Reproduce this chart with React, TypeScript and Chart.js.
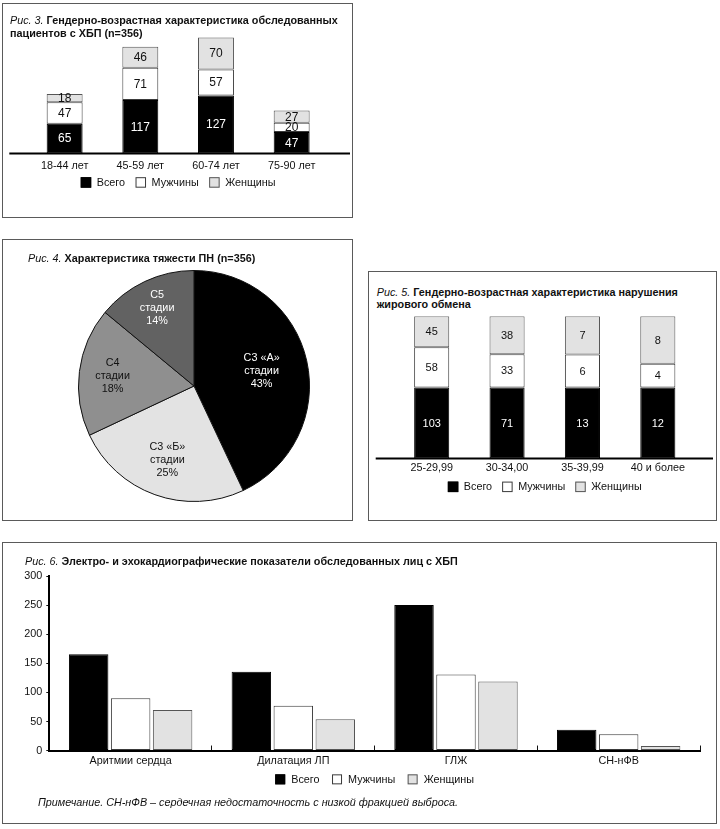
import React, { useEffect, useRef } from 'react';
import { Chart, registerables } from 'chart.js';

Chart.register(...registerables);

const FONT = "'Liberation Sans', Arial, Helvetica, sans-serif";
Chart.defaults.font.family = FONT;
Chart.defaults.color = '#111';

// ---------- Рис. 3 ----------
const ageGroups = ['18-44 лет', '45-59 лет', '60-74 лет', '75-90 лет'];
const ageTotal = [65, 117, 127, 47];
const ageMen = [47, 71, 57, 20];
const ageWomen = [18, 46, 70, 27];

// ---------- Рис. 4 ----------
const stageLabels = ['С3 «А»', 'С3 «Б»', 'С4', 'С5'];
const stagePercents = [43, 25, 18, 14];

// ---------- Рис. 5 ----------
const bmiGroups = ['25-29,99', '30-34,00', '35-39,99', '40 и более'];
const bmiTotal = [103, 71, 13, 12];
const bmiMen = [58, 33, 6, 4];
const bmiWomen = [45, 38, 7, 8];

// ---------- Рис. 6 ----------
const cardioCategories = ['Аритмии сердца', 'Дилатация ЛП', 'ГЛЖ', 'СН-нФВ'];
const cardioTotal = [166, 136, 251, 36];
const cardioMen = [90, 77, 131, 28];
const cardioWomen = [70, 54, 119, 8];
const cardioTicks = [0, 50, 100, 150, 200, 250, 300];

const seriesNames = ['Всего', 'Мужчины', 'Женщины'];
const seriesFill = ['#000000', '#ffffff', '#e2e2e2'];
const seriesBorder = ['#000000', '#3a3a3a', '#555555'];

// ---------- plugins ----------
const valueLabelsPlugin = {
  id: 'valueLabels',
  afterDatasetsDraw(chart: any, _a: any, opts: any) {
    if (!opts || !opts.display) return;
    const ctx = chart.ctx;
    ctx.save();
    ctx.font = opts.font;
    ctx.textAlign = 'center';
    ctx.textBaseline = 'middle';
    chart.data.datasets.forEach((ds: any, di: number) => {
      const meta = chart.getDatasetMeta(di);
      const texts = ds.valueLabels || ds.data;
      meta.data.forEach((el: any, i: number) => {
        const p = el.getProps(['x', 'y', 'base'], true);
        ctx.fillStyle = opts.colors[di];
        ctx.fillText(String(texts[i]), p.x, (p.y + p.base) / 2 + 0.5);
      });
    });
    ctx.restore();
  },
};

const boxLegendPlugin = {
  id: 'boxLegend',
  afterDraw(chart: any, _a: any, opts: any) {
    if (!opts || !opts.display) return;
    const { ctx, chartArea } = chart;
    ctx.save();
    ctx.font = opts.font;
    ctx.textBaseline = 'middle';
    ctx.textAlign = 'left';
    const items = chart.data.datasets.map((ds: any) => ({
      text: ds.label,
      fill: ds.backgroundColor,
      stroke: ds.borderColor,
      w: ctx.measureText(ds.label).width,
    }));
    const total =
      items.reduce((s: number, it: any) => s + opts.box + opts.gap + it.w, 0) +
      opts.itemGap * (items.length - 1);
    let x = (chartArea.left + chartArea.right) / 2 - total / 2 + (opts.dx || 0);
    const y = chartArea.bottom + opts.offsetY;
    items.forEach((it: any) => {
      ctx.fillStyle = it.fill;
      ctx.fillRect(x, y - opts.box / 2, opts.box, opts.box);
      ctx.strokeStyle = it.stroke;
      ctx.lineWidth = 1;
      ctx.strokeRect(x + 0.5, y - opts.box / 2 + 0.5, opts.box - 1, opts.box - 1);
      ctx.fillStyle = '#111';
      ctx.fillText(it.text, x + opts.box + opts.gap, y + 0.5);
      x += opts.box + opts.gap + it.w + opts.itemGap;
    });
    ctx.restore();
  },
};

const baselinePlugin = {
  id: 'baseline',
  afterDatasetsDraw(chart: any, _a: any, opts: any) {
    if (!opts || !opts.display) return;
    const { ctx, chartArea } = chart;
    const y = chart.scales.y.getPixelForValue(0);
    ctx.save();
    ctx.strokeStyle = '#000';
    ctx.lineWidth = opts.width;
    ctx.beginPath();
    ctx.moveTo(chartArea.left - opts.extendLeft, y);
    ctx.lineTo(chartArea.right + opts.extendRight, y);
    ctx.stroke();
    ctx.restore();
  },
};

const pieLabelsPlugin = {
  id: 'pieLabels',
  afterDatasetsDraw(chart: any, _a: any, opts: any) {
    if (!opts || !opts.display) return;
    const ctx = chart.ctx;
    const meta = chart.getDatasetMeta(0);
    const ds = chart.data.datasets[0];
    ctx.save();
    ctx.font = opts.font;
    ctx.textAlign = 'center';
    ctx.textBaseline = 'middle';
    meta.data.forEach((arc: any, i: number) => {
      const p = arc.getProps(['x', 'y', 'startAngle', 'endAngle', 'outerRadius'], true);
      const mid = (p.startAngle + p.endAngle) / 2;
      const r = p.outerRadius * opts.radius[i];
      const cx = p.x + Math.cos(mid) * r;
      const cy = p.y + Math.sin(mid) * r;
      const lines = [chart.data.labels[i], opts.word, ds.data[i] + '%'];
      ctx.fillStyle = opts.colors[i];
      lines.forEach((ln: string, k: number) => {
        ctx.fillText(ln, cx, cy + (k - 1) * opts.lineHeight);
      });
    });
    ctx.restore();
  },
};

const allPlugins = [valueLabelsPlugin, boxLegendPlugin, baselinePlugin, pieLabelsPlugin];

function seriesDatasets(values: number[][], extra?: (i: number) => any) {
  return values.map((data, i) => ({
    label: seriesNames[i],
    data,
    backgroundColor: seriesFill[i],
    borderColor: seriesBorder[i],
    borderWidth: 1,
    borderSkipped: false,
    ...(extra ? extra(i) : {}),
  }));
}

// ---------- configs ----------
function makeFig3() {
  return {
    type: 'bar',
    data: {
      labels: ageGroups,
      datasets: seriesDatasets([ageTotal, ageMen, ageWomen], () => ({
        categoryPercentage: 0.95,
        barPercentage: 0.5,
      })),
    },
    options: {
      responsive: false,
      animation: false,
      events: [],
      layout: { padding: { left: 23.8, right: 21.5, top: 4.8, bottom: 37.8 } },
      scales: {
        x: {
          stacked: true,
          grid: { display: false, drawTicks: false },
          border: { display: false },
          ticks: { font: { size: 10.8 }, color: '#111', padding: 5.9 },
        },
        y: { stacked: true, display: false, min: 0, max: 260 },
      },
      plugins: {
        legend: { display: false },
        tooltip: { enabled: false },
        valueLabels: { display: true, font: `12px ${FONT}`, colors: ['#fff', '#111', '#111'] },
        boxLegend: { display: true, font: `10.8px ${FONT}`, box: 10.5, gap: 5.5, itemGap: 10.5, offsetY: 29 },
        baseline: { display: true, width: 2, extendLeft: 17.5, extendRight: 20.5 },
        pieLabels: { display: false },
      },
    },
    plugins: allPlugins,
  } as any;
}

function makeFig4() {
  return {
    type: 'pie',
    data: {
      labels: stageLabels,
      datasets: [
        {
          data: stagePercents,
          backgroundColor: ['#000000', '#e3e3e3', '#8f8f8f', '#626262'],
          borderColor: '#111',
          borderWidth: 1,
        },
      ],
    },
    options: {
      responsive: false,
      animation: false,
      events: [],
      layout: { padding: 8 },
      plugins: {
        legend: { display: false },
        tooltip: { enabled: false },
        pieLabels: {
          display: true,
          font: `10.8px ${FONT}`,
          word: 'стадии',
          lineHeight: 13,
          radius: [0.6, 0.68, 0.71, 0.75],
          colors: ['#fff', '#111', '#111', '#fff'],
        },
        valueLabels: { display: false },
        boxLegend: { display: false },
        baseline: { display: false },
      },
    },
    plugins: allPlugins,
  } as any;
}

function makeFig5() {
  const sums = bmiTotal.map((v, i) => v + bmiMen[i] + bmiWomen[i]);
  const pct = (arr: number[]) => arr.map((v, i) => (v / sums[i]) * 100);
  const raw = [bmiTotal, bmiMen, bmiWomen];
  return {
    type: 'bar',
    data: {
      labels: bmiGroups,
      datasets: seriesDatasets([pct(bmiTotal), pct(bmiMen), pct(bmiWomen)], (i) => ({
        valueLabels: raw[i],
        categoryPercentage: 0.95,
        barPercentage: 0.49,
      })),
    },
    options: {
      responsive: false,
      animation: false,
      events: [],
      layout: { padding: { left: 24, right: 20.5, top: 6.3, bottom: 37.5 } },
      scales: {
        x: {
          stacked: true,
          grid: { display: false, drawTicks: false },
          border: { display: false },
          ticks: { font: { size: 10.8 }, color: '#111', padding: 3 },
        },
        y: { stacked: true, display: false, min: 0, max: 100 },
      },
      plugins: {
        legend: { display: false },
        tooltip: { enabled: false },
        valueLabels: { display: true, font: `11px ${FONT}`, colors: ['#fff', '#111', '#111'] },
        boxLegend: { display: true, font: `10.8px ${FONT}`, box: 10.5, gap: 5.5, itemGap: 10, offsetY: 28.3 },
        baseline: { display: true, width: 2, extendLeft: 18.3, extendRight: 17.5 },
        pieLabels: { display: false },
      },
    },
    plugins: allPlugins,
  } as any;
}

function makeFig6() {
  return {
    type: 'bar',
    data: {
      labels: cardioCategories,
      datasets: seriesDatasets([cardioTotal, cardioMen, cardioWomen], () => ({
        categoryPercentage: 0.774,
        barPercentage: 0.94,
      })),
    },
    options: {
      responsive: false,
      animation: false,
      events: [],
      layout: { padding: { left: 16.3, right: 15, top: 7.3, bottom: 24.5 } },
      scales: {
        x: {
          grid: { display: true, drawOnChartArea: false, drawTicks: true, tickLength: -5, color: '#111', lineWidth: 1 },
          border: { display: true, color: '#000', width: 2 },
          ticks: { font: { size: 10.8 }, color: '#111', padding: 9 },
        },
        y: {
          min: 0,
          max: 300,
          afterBuildTicks: (s: any) => {
            s.ticks = cardioTicks.map((v) => ({ value: v }));
          },
          afterFit: (s: any) => {
            s.width = 30;
          },
          grid: { drawOnChartArea: false, drawTicks: true, tickLength: 3, color: '#111' },
          border: { display: true, color: '#000', width: 2 },
          ticks: { font: { size: 10.8 }, color: '#111', padding: 4 },
        },
      },
      plugins: {
        legend: { display: false },
        tooltip: { enabled: false },
        valueLabels: { display: false },
        boxLegend: { display: true, font: `10.8px ${FONT}`, box: 10, gap: 6, itemGap: 12.5, offsetY: 28.8 },
        baseline: { display: false },
        pieLabels: { display: false },
      },
    },
    plugins: allPlugins,
  } as any;
}

function ChartBox(props: { make: () => any; left: number; top: number; width: number; height: number }) {
  const ref = useRef<HTMLCanvasElement>(null);
  const { make, left, top, width, height } = props;
  useEffect(() => {
    const chart = new Chart(ref.current as HTMLCanvasElement, make());
    return () => chart.destroy();
  }, [make]);
  return (
    <canvas
      ref={ref}
      width={width}
      height={height}
      style={{ position: 'absolute', left, top, width, height, display: 'block' }}
    />
  );
}

const panel = (left: number, top: number, width: number, height: number): React.CSSProperties => ({
  position: 'absolute',
  left,
  top,
  width,
  height,
  boxSizing: 'border-box',
  border: '1px solid #5a5a5a',
});

const textStyle = (left: number, top: number, lh: number): React.CSSProperties => ({
  position: 'absolute',
  left,
  top,
  fontFamily: FONT,
  fontSize: '10.8px',
  lineHeight: `${lh}px`,
  color: '#111',
  whiteSpace: 'nowrap',
});

export default function App() {
  useEffect(() => {
    document.body.style.margin = '0';
  }, []);
  return (
    <div style={{ position: 'absolute', left: 0, top: 0, width: 720, height: 829, background: '#fff', fontFamily: FONT }}>
      <div style={panel(2, 3, 351, 215)} />
      <div style={panel(2, 239, 351, 282)} />
      <div style={panel(368, 271, 349, 250)} />
      <div style={panel(2, 542, 715, 282)} />

      <ChartBox make={makeFig3} left={3} top={30} width={348} height={186} />
      <ChartBox make={makeFig4} left={70} top={262} width={248} height={248} />
      <ChartBox make={makeFig5} left={370} top={310} width={346} height={205} />
      <ChartBox make={makeFig6} left={3} top={566} width={712} height={235} />

      <div style={textStyle(10, 14, 13)}>
        <i>Рис. 3.</i> <b>Гендерно-возрастная характеристика обследованных</b>
        <br />
        <b>пациентов с ХБП (n=356)</b>
      </div>
      <div style={textStyle(28, 252.4, 13)}>
        <i>Рис. 4.</i> <b>Характеристика тяжести ПН (n=356)</b>
      </div>
      <div style={textStyle(376.7, 285.5, 12)}>
        <i>Рис. 5.</i> <b>Гендерно-возрастная характеристика нарушения</b>
        <br />
        <b>жирового обмена</b>
      </div>
      <div style={textStyle(25, 555.4, 13)}>
        <i>Рис. 6.</i> <b>Электро- и эхокардиографические показатели обследованных лиц с ХБП</b>
      </div>
      <div style={{ ...textStyle(38, 795.8, 13), fontStyle: 'italic' }}>
        Примечание. СН-нФВ – сердечная недостаточность с низкой фракцией выброса.
      </div>
    </div>
  );
}
